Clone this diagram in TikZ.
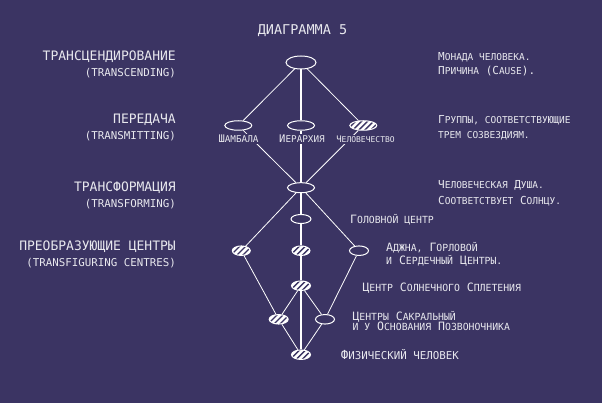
\documentclass[tikz,border=0pt]{standalone}
\usepackage{fontspec}
\setmonofont{DejaVu Sans Mono}
\usetikzlibrary{shapes.geometric}
\definecolor{bgc}{RGB}{59,52,99}
\definecolor{txt}{RGB}{232,232,238}
\newcommand\smsize{9}
\newcommand\sm[1]{{\fontsize{\smsize}{\smsize}\selectfont\MakeUppercase{#1}}}
\tikzset{
  ell/.style={ellipse, draw=white, line width=1pt, fill=bgc, inner sep=0pt, minimum width=19pt, minimum height=9.5pt},
  hatch/.style={ellipse, draw=white, line width=1pt, fill=white, inner sep=0pt, minimum width=19pt, minimum height=9.5pt,
    path picture={\foreach \k in {-4,...,4}{\draw[bgc, line width=1.4pt, shift={(path picture bounding box.center)}] (\k*6-8,8) -- ++(16,-16);}}},
  edge/.style={white, line width=0.8pt},
  vedge/.style={white, line width=1.3pt},
  ttl/.style={font=\ttfamily\fontsize{13.5}{14}\selectfont, text=txt, inner sep=0pt, anchor=base},
  lvl/.style={font=\ttfamily\fontsize{13}{14}\selectfont, text=txt, inner sep=0pt, anchor=base east},
  lvlsub/.style={font=\ttfamily\fontsize{10.8}{12}\selectfont, text=txt, inner sep=0pt, anchor=base east},
  desc/.style={font={\ttfamily\fontsize{11}{12}\selectfont\def\smsize{9.5}}, text=txt, inner sep=0pt, anchor=base west},
  desctwo/.style={font={\ttfamily\fontsize{11.5}{12}\selectfont\def\smsize{9.8}}, text=txt, inner sep=0pt, anchor=base west},
  physd/.style={font={\ttfamily\fontsize{12.5}{13}\selectfont\def\smsize{10.8}}, text=txt, inner sep=0pt, anchor=base west},
  lab/.style={font={\ttfamily\fontsize{10.5}{11}\selectfont\def\smsize{9.3}}, text=txt, inner sep=1.2pt, fill=bgc, anchor=base},
  labsmall/.style={font={\ttfamily\fontsize{9}{10}\selectfont\def\smsize{8}}, text=txt, inner sep=1.2pt, fill=bgc, anchor=base},
}
\begin{document}
\begin{tikzpicture}[x=1pt,y=-1pt]
\fill[bgc] (0,0) rectangle (602,403);
\useasboundingbox (0,0) rectangle (602,403);

% nodes of the graph
\node[ell, minimum width=30pt, minimum height=13pt] (top) at (301,62.5) {};
\node[ell, minimum width=27pt] (sh) at (238.3,125.5) {};
\node[ell, minimum width=27pt] (ie) at (301,125.5) {};
\node[hatch, minimum width=27pt] (ch) at (363.3,125.5) {};
\node[ell, minimum width=27pt, minimum height=10pt] (tr) at (301,187.7) {};
\node[ell, minimum width=20pt, minimum height=9pt] (head) at (301,219) {};
\node[hatch, minimum width=18pt] (cl) at (241.3,250.7) {};
\node[hatch, minimum width=18pt] (cm) at (301,250.7) {};
\node[ell] (cr) at (359,250.7) {};
\node[hatch] (sol) at (301,285.7) {};
\node[hatch] (sl) at (278.7,319.3) {};
\node[ell] (sr) at (325,319.3) {};
\node[hatch] (ph) at (301,354.7) {};

% connectors
\draw[edge] (top) -- (sh);
\draw[edge] (top) -- (ch);
\draw[vedge] (top) -- (ie);
\draw[edge] (sh) -- (tr);
\draw[edge] (ch) -- (tr);
\draw[vedge] (ie) -- (tr);
\draw[vedge] (tr) -- (head);
\draw[vedge] (head) -- (cm);
\draw[vedge] (cm) -- (sol);
\draw[vedge] (sol) -- (ph);
\draw[edge] (tr) -- (cl);
\draw[edge] (tr) -- (cr);
\draw[edge] (cl) -- (sl);
\draw[edge] (sl) -- (ph);
\draw[edge] (cr) -- (sr);
\draw[edge] (sr) -- (ph);
\draw[edge] (sol) -- (sl);
\draw[edge] (sol) -- (sr);

% node labels
\node[lab] (lsh) at (238.5,143) {Ш\sm{амбала}};
\node[lab] (lie) at (302,143) {И\sm{ерархия}};
\node[labsmall] (lch) at (365.5,143) {Ч\sm{еловечество}};

% title
\node[ttl] (title) at (302.5,35) {ДИАГРАММА 5};

% left column
\node[lvl] (l1) at (176,60.7) {ТРАНСЦЕНДИРОВАНИЕ};
\node[lvlsub] (l1s) at (176,76.5) {(TRANSCENDING)};
\node[lvl] (l2) at (176,123.3) {ПЕРЕДАЧА};
\node[lvlsub] (l2s) at (176,140) {(TRANSMITTING)};
\node[lvl] (l3) at (176,191.7) {ТРАНСФОРМАЦИЯ};
\node[lvlsub] (l3s) at (176,207.5) {(TRANSFORMING)};
\node[lvl] (l4) at (176,250.7) {ПРЕОБРАЗУЮЩИЕ ЦЕНТРЫ};
\node[lvlsub] (l4s) at (176,266.5) {(TRANSFIGURING CENTRES)};

% right column
\node[desc] (r1a) at (438,60.7) {М\sm{онада человека.}};
\node[desc] (r1b) at (438,75) {П\sm{ричина} (C\sm{ause}).};
\node[desc] (r2a) at (438,123.3) {Г\sm{руппы, соответствующие}};
\node[desc] (r2b) at (438,138.3) {\sm{трем созвездиям.}};
\node[desc] (r3a) at (438,189) {Ч\sm{еловеческая} Д\sm{уша.}};
\node[desc] (r3b) at (438,204.3) {С\sm{оответствует} С\sm{олнцу.}};

% lower right
\node[desctwo] (h1) at (350,224) {Г\sm{оловной центр}};
\node[desctwo] (a1) at (386,251.7) {А\sm{джна,} Г\sm{орловой}};
\node[desctwo] (a2) at (386,265) {\sm{и} С\sm{ердечный} Ц\sm{ентры.}};
\node[desctwo] (s1) at (362.3,291.7) {Ц\sm{ентр} С\sm{олнечного} С\sm{плетения}};
\node[desctwo] (c1) at (352.3,320) {Ц\sm{ентры} С\sm{акральный}};
\node[desctwo] (c2) at (352.3,330.7) {\sm{и у} О\sm{снования} П\sm{озвоночника}};
\node[physd] (p1) at (340.7,359.3) {Ф\sm{изический человек}};
\end{tikzpicture}
\end{document}
